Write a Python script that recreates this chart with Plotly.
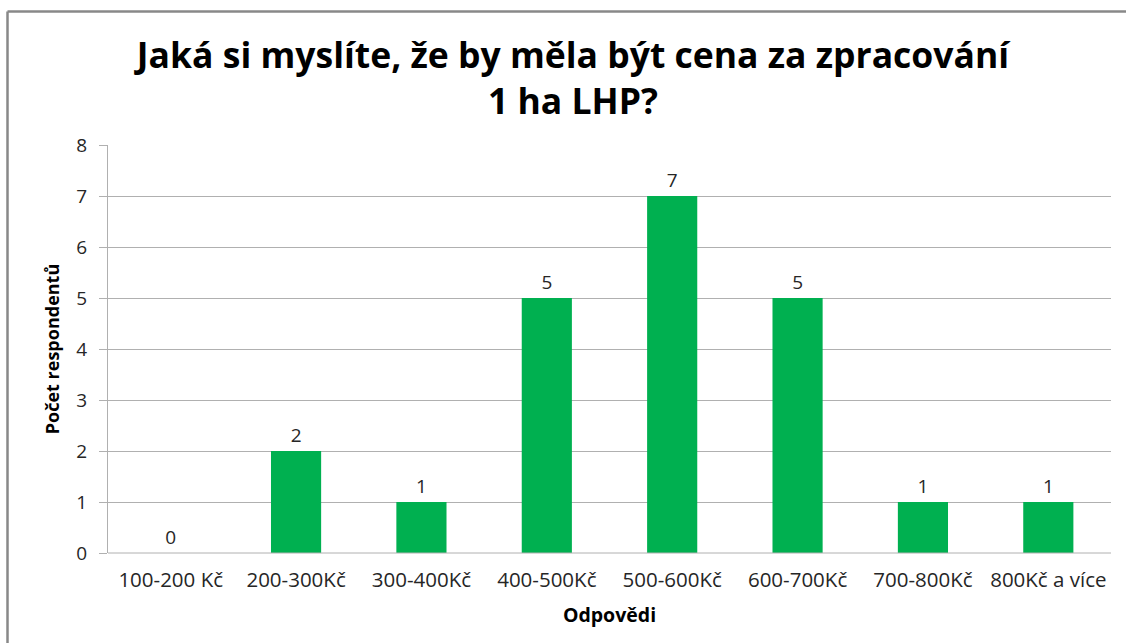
import plotly.graph_objects as go

categories = ["100-200 Kč", "200-300Kč", "300-400Kč", "400-500Kč", "500-600Kč", "600-700Kč", "700-800Kč", "800Kč a více"]
values = [0, 2, 1, 5, 7, 5, 1, 1]
y_ticks = [0, 1, 2, 3, 4, 5, 6, 7, 8]

W, H = 1126, 643
L, R, T, B = 108, 15, 145, 90
pw, ph = W - L - R, H - T - B

def px(x):
    return (x - L) / pw

def py(y):
    return (H - B - y) / ph

font = "'Open Sans', sans-serif"

fig = go.Figure()
fig.add_trace(go.Bar(
    x=categories, y=values,
    marker=dict(color="#00B050", line=dict(width=0)),
    text=[str(v) for v in values], textposition="outside",
    textfont=dict(size=19, color="#262626", family=font),
    cliponaxis=False, width=0.4,
))

border = dict(color="#888888", width=2.5)

fig.update_layout(
    width=W, height=H,
    margin=dict(l=L, r=R, t=T, b=B),
    paper_bgcolor="white", plot_bgcolor="white",
    showlegend=False,
    title=dict(
        text="<b>Jaká si myslíte, že by měla být cena za zpracování<br>1 ha LHP?</b>",
        x=573 / W, xanchor="center", y=1 - 68 / H, yanchor="middle",
        font=dict(size=35.5, family=font, color="black"),
    ),
    xaxis=dict(
        tickfont=dict(size=20.5, family=font, color="#262626"),
        showgrid=False, showline=False, ticks="",
        ticklabelstandoff=12,
        title=dict(text="<b>Odpovědi</b>", font=dict(size=19.5, family=font, color="black"), standoff=16),
    ),
    yaxis=dict(
        range=[0, 8], tickvals=y_ticks,
        tickfont=dict(size=19, family=font, color="#262626"),
        showgrid=True, gridcolor="#b0b0b0", gridwidth=1,
        showline=True, linecolor="#b0b0b0", linewidth=1,
        ticks="outside", ticklen=8, tickcolor="#b0b0b0",
        ticklabelstandoff=8,
        zeroline=False,
        title=dict(text="<b>Počet respondentů</b>", font=dict(size=18, family=font, color="black"), standoff=12),
    ),
    shapes=[
        dict(type="line", xref="paper", yref="paper", x0=0, x1=1, y0=0, y1=0,
             line=dict(color="#b0b0b0", width=1)),
        dict(type="line", xref="paper", yref="paper",
             x0=px(7.5), x1=px(1130), y0=py(11.5), y1=py(11.5), line=border, layer="below"),
        dict(type="line", xref="paper", yref="paper",
             x0=px(7.5), x1=px(7.5), y0=py(11.5), y1=py(650), line=border, layer="below"),
    ],
)

fig.write_html("out.html", config={"displayModeBar": False},
               post_script="document.body.style.margin='0';document.body.style.overflow='hidden';")
